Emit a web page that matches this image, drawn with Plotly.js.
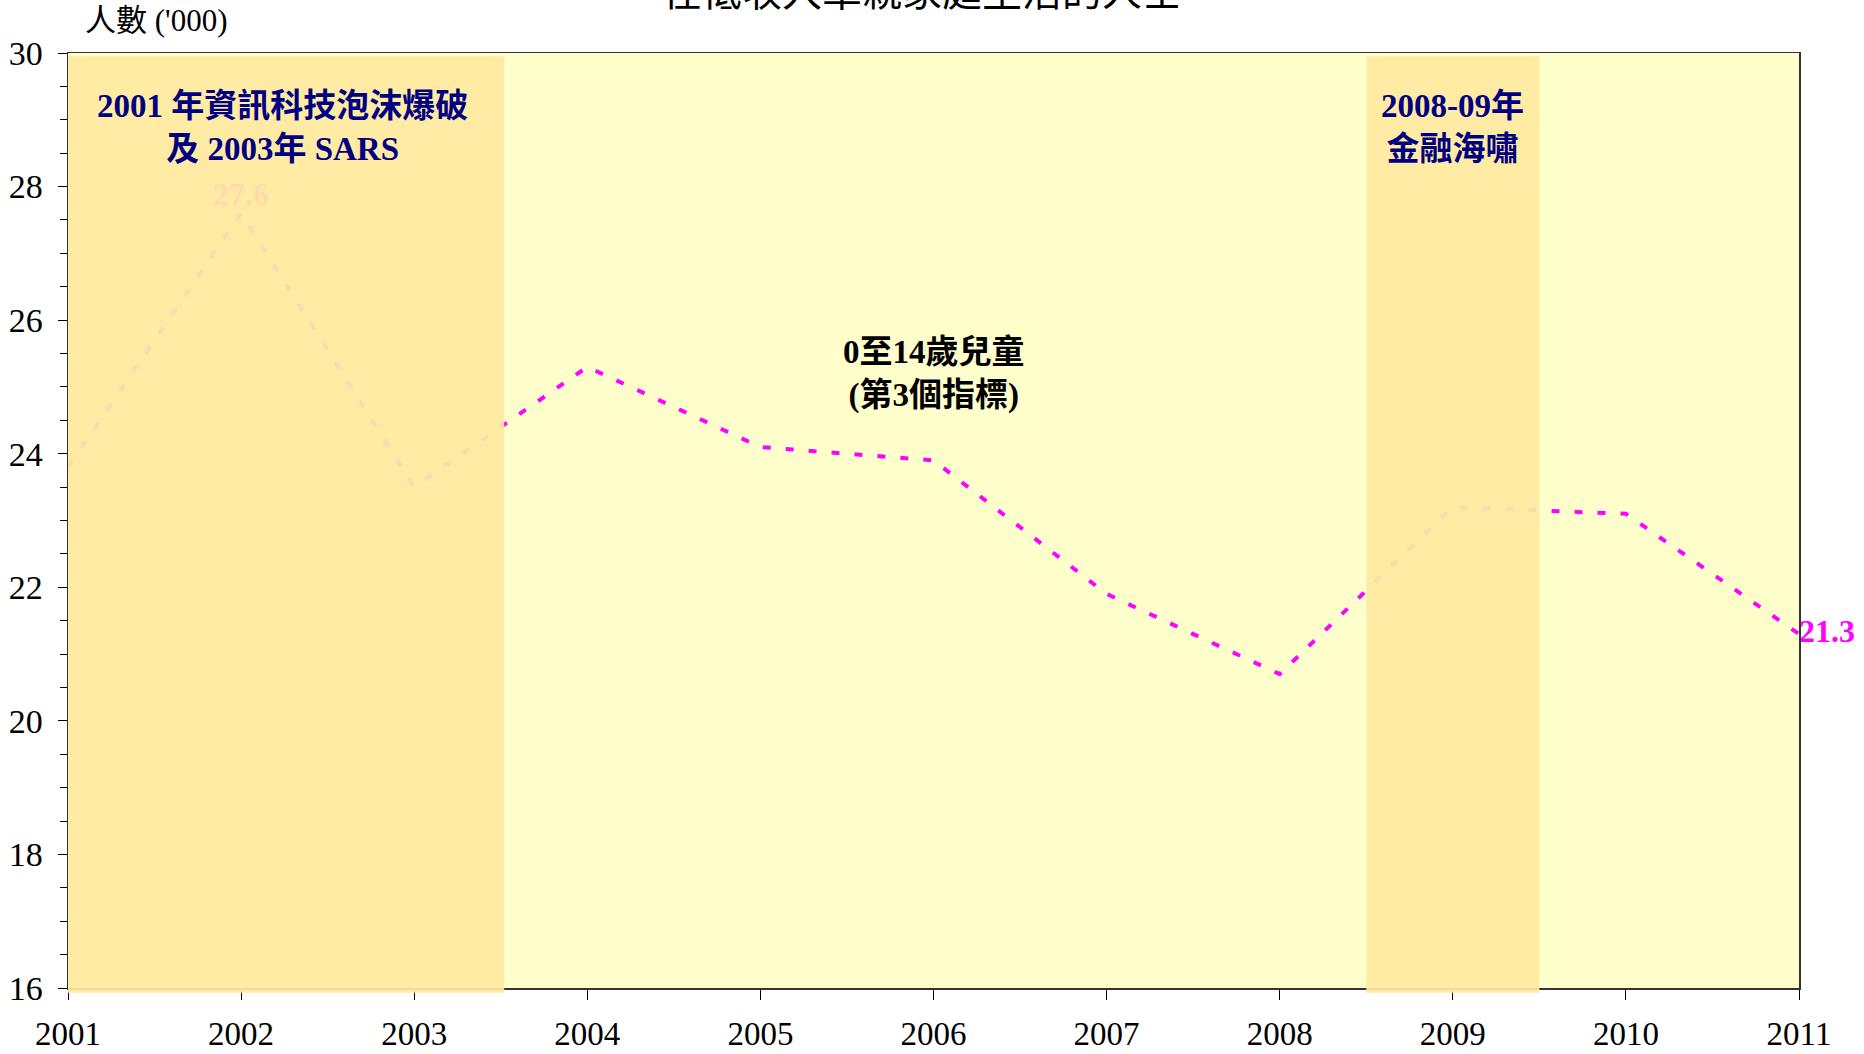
<!DOCTYPE html>
<html><head><meta charset="utf-8">
<script src="https://cdn.plot.ly/plotly-3.0.1.min.js"></script>
<style>html,body{margin:0;padding:0;background:#fff}#chart{width:1864px;height:1054px}</style>
</head><body><div id="chart"></div>
<script>
// ---- data ----
const years = [2001, 2002, 2003, 2004, 2005, 2006, 2007, 2008, 2009, 2010, 2011];
const children = [23.8, 27.6, 23.5, 25.3, 24.1, 23.9, 21.9, 20.7, 23.2, 23.1, 21.3];
const valueLabels = ['', '27.6', '', '', '', '', '', '', '', '', '21.3'];
const labelPositions = ['top center', 'top center', 'top center', 'top center', 'top center', 'top center',
                        'top center', 'top center', 'top center', 'top center', 'middle right'];
const shadeStarts = [2001, 2008.5];
const shadeEnds = [2003.52, 2009.5];
const shadeLabels = ['2001 年資訊科技泡沫爆破<br>及 2003年 SARS', '2008-09年<br>金融海嘯'];
const shadeLabelX = [2002.24, 2009];
const shadeLabelY = 28.88;
const seriesLabel = '0至14歲兒童<br>(第3個指標)';
const seriesLabelX = 2006;
const seriesLabelY = 25.19;
const titleText = '在低收入單親家庭生活的人士';
const yTitle = "人數 ('000)";

const FONT = "'Liberation Serif', 'Times New Roman', 'Noto Sans CJK TC', serif";

const trace = {
  x: years, y: children, type: 'scatter', mode: 'lines+text',
  line: {color: '#FF00FF', width: 4, dash: '8px,15px'},
  text: valueLabels, textposition: labelPositions,
  textfont: {family: FONT, size: 32, color: '#FF00FF', weight: 'bold'},
  cliponaxis: false, hoverinfo: 'skip', showlegend: false
};

const shapes = shadeStarts.map((s, i) => ({
  type: 'rect', xref: 'x', yref: 'paper', x0: s, x1: shadeEnds[i], y0: -0.005, y1: 0.9966,
  fillcolor: '#FFE9A0', opacity: 0.93, line: {width: 0}, layer: 'above'
}));

const annotations = [];
shadeLabels.forEach((t, i) => annotations.push({
  x: shadeLabelX[i], y: shadeLabelY, xref: 'x', yref: 'y', text: '<b>' + t + '</b>',
  showarrow: false, font: {family: FONT, size: 33, color: '#000080'}, xanchor: 'center', yanchor: 'middle'
}));
annotations.push({
  x: seriesLabelX, y: seriesLabelY, xref: 'x', yref: 'y', text: '<b>' + seriesLabel + '</b>',
  showarrow: false, font: {family: FONT, size: 33, color: '#000000'}, xanchor: 'center', yanchor: 'middle'
});
annotations.push({
  x: 0.4934, y: 1.0647, xref: 'paper', yref: 'paper', text: titleText, showarrow: false,
  font: {family: FONT, size: 40, color: '#000000'}, xanchor: 'center', yanchor: 'middle'
});
annotations.push({
  x: 0.0087, y: 1.0348, xref: 'paper', yref: 'paper', text: yTitle, showarrow: false,
  font: {family: FONT, size: 31, color: '#000000'}, xanchor: 'left', yanchor: 'middle'
});

const layout = {
  width: 1864, height: 1054,
  margin: {l: 68, r: 65, t: 53, b: 66},
  paper_bgcolor: '#FFFFFF', plot_bgcolor: '#FFFFCC',
  showlegend: false,
  xaxis: {
    range: [2001, 2011], tickmode: 'linear', tick0: 2001, dtick: 1,
    ticks: 'outside', ticklen: 10, tickcolor: '#000', tickwidth: 1,
    showline: true, mirror: true, linecolor: '#333', linewidth: 1.5,
    showgrid: false, zeroline: false, ticklabelstandoff: 6,
    tickfont: {family: FONT, size: 33, color: '#000'}
  },
  yaxis: {
    range: [16, 30], tickmode: 'linear', tick0: 16, dtick: 2,
    ticks: 'outside', ticklen: 9, tickcolor: '#000', tickwidth: 1,
    minor: {dtick: 0.5, ticks: 'outside', ticklen: 7, tickcolor: '#000', showgrid: false},
    showline: true, mirror: true, linecolor: '#333', linewidth: 1.5,
    showgrid: false, zeroline: false, ticklabelstandoff: 8,
    tickfont: {family: FONT, size: 34, color: '#000'}
  },
  shapes: shapes,
  annotations: annotations
};

Plotly.newPlot('chart', [trace], layout, {staticPlot: true});
</script></body></html>
